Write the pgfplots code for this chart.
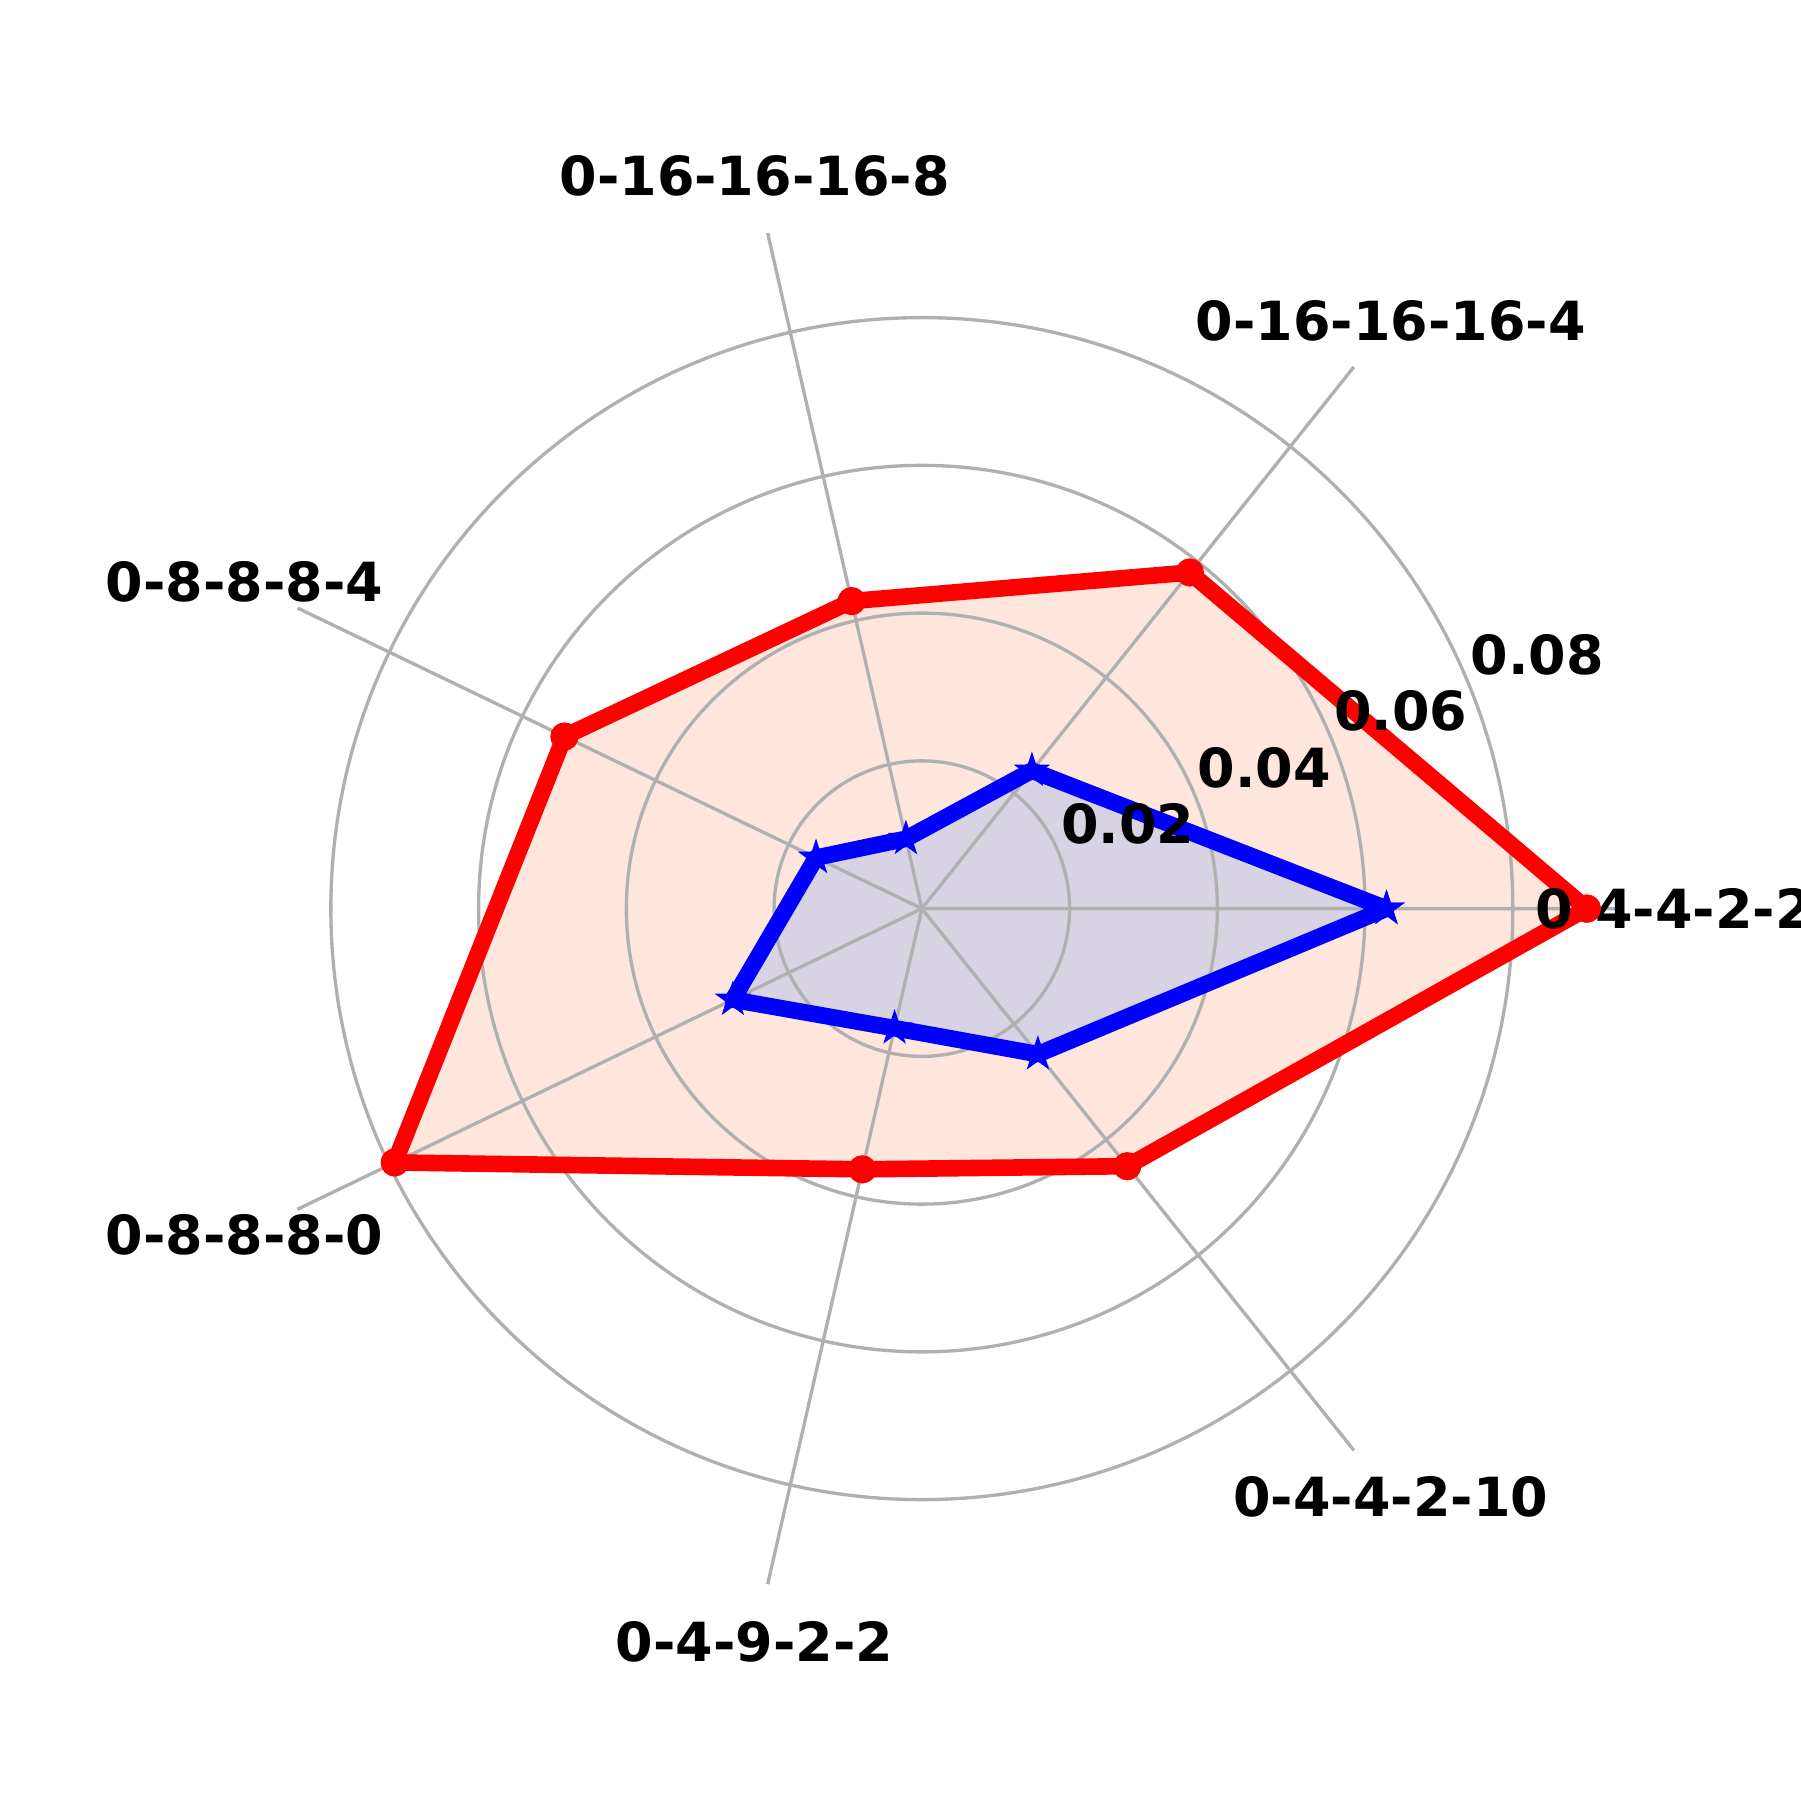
\documentclass[border=0pt]{standalone}
\usepackage{pgfplots}
\pgfplotsset{compat=1.18}
\usepgfplotslibrary{polar}
\usepackage{fontspec}
\setmainfont{DejaVu Sans}
\definecolor{redfill}{HTML}{FEE6DD}
\definecolor{bluefill}{HTML}{D8D3E2}
\definecolor{gridgray}{HTML}{B0B0B0}
\pgfdeclareplotmark{fstar}{%
  \pgfpathmoveto{\pgfpointpolar{90}{\pgfplotmarksize}}%
  \pgfpathlineto{\pgfpointpolar{126}{0.382\pgfplotmarksize}}%
  \pgfpathlineto{\pgfpointpolar{162}{\pgfplotmarksize}}%
  \pgfpathlineto{\pgfpointpolar{198}{0.382\pgfplotmarksize}}%
  \pgfpathlineto{\pgfpointpolar{234}{\pgfplotmarksize}}%
  \pgfpathlineto{\pgfpointpolar{270}{0.382\pgfplotmarksize}}%
  \pgfpathlineto{\pgfpointpolar{306}{\pgfplotmarksize}}%
  \pgfpathlineto{\pgfpointpolar{342}{0.382\pgfplotmarksize}}%
  \pgfpathlineto{\pgfpointpolar{18}{\pgfplotmarksize}}%
  \pgfpathlineto{\pgfpointpolar{54}{0.382\pgfplotmarksize}}%
  \pgfpathclose
  \pgfusepathqfillstroke
}
\begin{document}
\begin{tikzpicture}
\begin{polaraxis}[
  set layers,
  at={(0,0)}, anchor=origin,
  scale only axis,
  width=11.734cm, height=11.734cm,
  ymin=0, ymax=0.0938,
  xmin=0, xmax=360,
  xtick={0,51.4286,102.8571,154.2857,205.7143,257.1429,308.5714},
  ytick={0.02,0.04,0.06,0.08},
  scaled y ticks=false,
  xticklabels={}, yticklabels={},
  grid=major,
  major grid style={draw=gridgray, line width=0.8pt},
  axis line style={draw=none},
  major tick length=0pt,
  clip=false,
]
% fills
\addplot[on layer=axis background, draw=none, fill=redfill] coordinates {
  (0,0.0900) (51.4286,0.0582) (102.8571,0.0427) (154.2857,0.0537)
  (205.7143,0.0792) (257.1429,0.0362) (308.5714,0.0446) (360,0.0900)};
\addplot[on layer=axis background, draw=none, fill=bluefill] coordinates {
  (0,0.0629) (51.4286,0.0239) (102.8571,0.0097) (154.2857,0.0159)
  (205.7143,0.0284) (257.1429,0.0166) (308.5714,0.0252) (360,0.0629)};
% lines
\addplot[red, line width=4pt, line join=round, mark=*, mark size=3pt,
  mark options={line width=0.8pt, fill=red, draw=red}] coordinates {
  (0,0.0900) (51.4286,0.0582) (102.8571,0.0427) (154.2857,0.0537)
  (205.7143,0.0792) (257.1429,0.0362) (308.5714,0.0446) (360,0.0900)};
\addplot[blue, line width=4pt, line join=round, mark=fstar, mark size=3pt,
  mark options={line width=1pt, fill=blue, draw=blue, line join=miter}] coordinates {
  (0,0.0629) (51.4286,0.0239) (102.8571,0.0097) (154.2857,0.0159)
  (205.7143,0.0284) (257.1429,0.0166) (308.5714,0.0252) (360,0.0629)};
% radial tick labels
\begin{scope}[every node/.style={font=\fontsize{13}{15.6}\selectfont\bfseries, inner sep=0pt, anchor=base west, yshift=2pt, xshift=0.5pt}]
\node at (axis cs:22.5,0.02) {0.02};
\node at (axis cs:22.5,0.04) {0.04};
\node at (axis cs:22.5,0.06) {0.06};
\node at (axis cs:22.5,0.08) {0.08};
\end{scope}
% category labels
\begin{scope}[every node/.style={font=\fontsize{13}{15.6}\selectfont\bfseries, inner sep=0pt, anchor=center}]
\node at (axis cs:0,0.1018) {0-4-4-2-2};
\node at (axis cs:51.4286,0.1018) {0-16-16-16-4};
\node at (axis cs:102.8571,0.1018) {0-16-16-16-8};
\node at (axis cs:154.2857,0.1018) {0-8-8-8-4};
\node at (axis cs:205.7143,0.1018) {0-8-8-8-0};
\node at (axis cs:257.1429,0.1018) {0-4-9-2-2};
\node at (axis cs:308.5714,0.1018) {0-4-4-2-10};
\end{scope}
\end{polaraxis}
\pgfresetboundingbox
\path[use as bounding box] (-7.805,-7.547) rectangle (7.435,7.693);
\end{tikzpicture}
\end{document}
